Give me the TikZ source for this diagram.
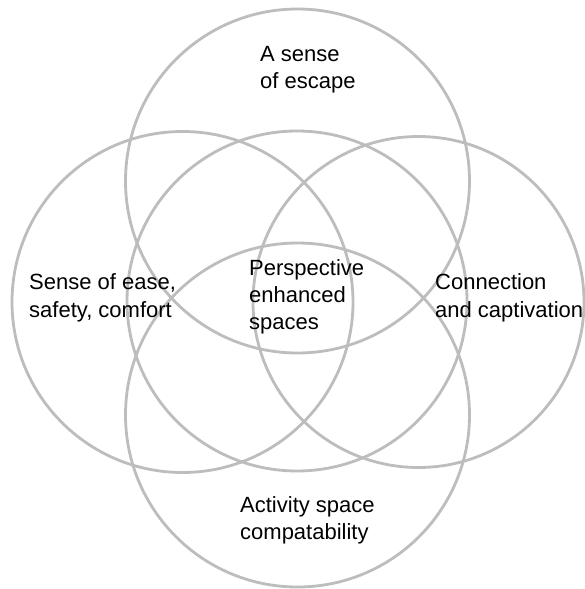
\documentclass[tikz,border=0pt]{standalone}
\usepackage{fontspec}
\setmainfont{Liberation Sans}
\begin{document}
\begin{tikzpicture}[x=1pt,y=-1pt,
  ring/.style={draw=black!26,line width=2.8pt},
  lbl/.style={inner sep=0pt,anchor=base west,font=\fontsize{22}{27}\selectfont,text=black}]
\useasboundingbox (0,0) rectangle (585,589);
\fill[white] (0,0) rectangle (585,589);
% circles
\node[ring,circle,minimum size=344pt,inner sep=0pt] (ctop) at (297.5,181) {};
\node[ring,circle,minimum size=344pt,inner sep=0pt] (cbot) at (297.5,415) {};
\node[ring,circle,minimum size=341pt,inner sep=0pt] (cleft) at (182.5,302) {};
\node[ring,circle,minimum size=331pt,inner sep=0pt] (cright) at (418.5,302) {};
\node[ring,circle,minimum size=340pt,inner sep=0pt] (cmid) at (297,301) {};
% labels
\node[lbl] (esc1) at (260,61) {A sense};
\node[lbl] (esc2) at (260,88) {of escape};
\node[lbl] (ease1) at (29,289) {Sense of ease,};
\node[lbl] (ease2) at (29,317) {safety, comfort};
\node[lbl] (per1) at (249,275) {Perspective};
\node[lbl] (per2) at (249,302) {enhanced};
\node[lbl] (per3) at (249,329) {spaces};
\node[lbl] (con1) at (435,289) {Connection};
\node[lbl] (con2) at (435,317) {and captivation};
\node[lbl] (act1) at (240,512) {Activity space};
\node[lbl] (act2) at (240,539) {compatability};
\end{tikzpicture}
\end{document}
